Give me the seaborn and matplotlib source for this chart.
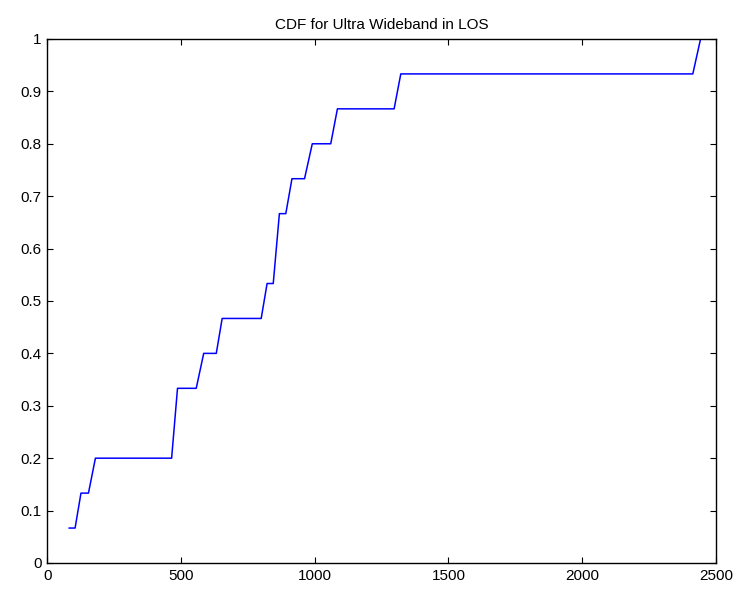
import matplotlib
matplotlib.use("Agg")
import matplotlib.pyplot as plt
import seaborn as sns
import pandas as pd

# Vertices of the empirical CDF curve (sample value vs cumulative probability)
x_values = [81, 104, 126, 154, 180, 465, 487, 557, 585, 632, 654, 800, 822,
            845, 868, 892, 915, 962, 991, 1060, 1085, 1297, 1322, 2414, 2443]
level_counts = [1, 1, 2, 2, 3, 3, 5, 5, 6, 6, 7, 7, 8, 8, 10, 10, 11, 11,
                12, 12, 13, 13, 14, 14, 15]
n_samples = 15
cdf_values = [c / n_samples for c in level_counts]

x_ticks = [0, 500, 1000, 1500, 2000, 2500]
y_ticks = [0, 0.1, 0.2, 0.3, 0.4, 0.5, 0.6, 0.7, 0.8, 0.9, 1]
y_tick_labels = ["0", "0.1", "0.2", "0.3", "0.4", "0.5", "0.6", "0.7", "0.8", "0.9", "1"]
title = "CDF for Ultra Wideband in LOS"

sns.set_style("white")
plt.rcParams['font.family'] = ['Liberation Sans', 'DejaVu Sans']
plt.rcParams['text.color'] = 'black'

df = pd.DataFrame({"x": x_values, "cdf": cdf_values})

fig = plt.figure(figsize=(7.41, 5.96), dpi=100)
ax = fig.add_axes([0.0638, 0.0554, 0.9022, 0.8792])

sns.lineplot(data=df, x="x", y="cdf", sort=False, estimator=None,
             color=(0, 0, 1), linewidth=1.1, ax=ax)

ax.set_xlim(0, 2500)
ax.set_ylim(0, 1)
ax.set_xticks(x_ticks)
ax.set_xticklabels([str(t) for t in x_ticks])
ax.set_yticks(y_ticks)
ax.set_yticklabels(y_tick_labels)
ax.set_xlabel("")
ax.set_ylabel("")
ax.set_title(title, fontsize=11, pad=7, color="black")

for s in ax.spines.values():
    s.set_visible(True)
    s.set_color("black")
    s.set_linewidth(1.0)

ax.tick_params(axis="both", which="both", direction="in", length=4, width=0.8,
               top=True, right=True, bottom=True, left=True,
               labelsize=11, colors="black", pad=4)
ax.grid(False)

fig.savefig("out.png", dpi=100, facecolor="white")
